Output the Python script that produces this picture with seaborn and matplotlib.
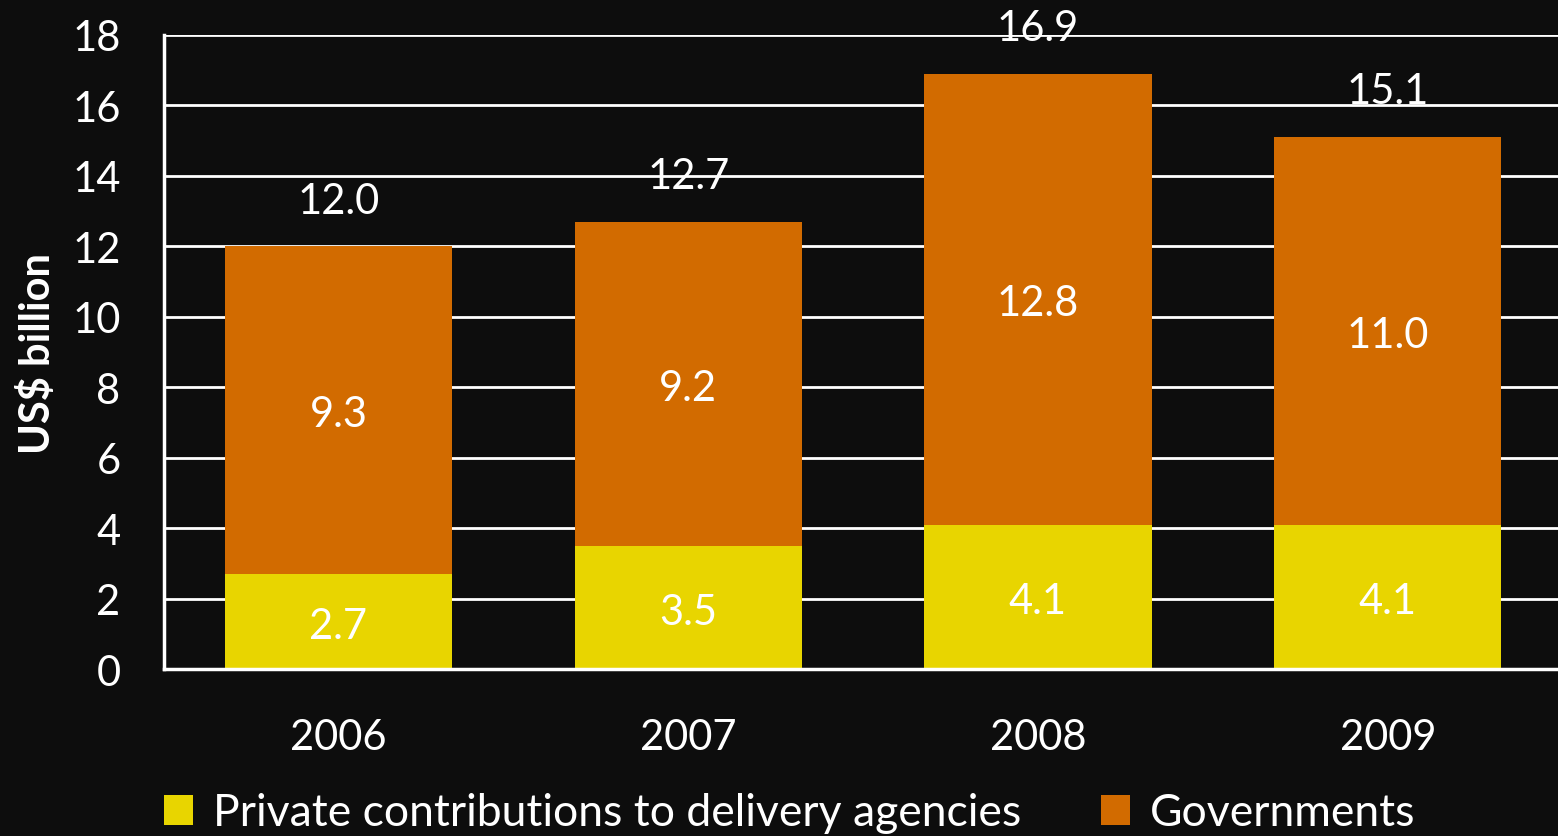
import matplotlib
matplotlib.use("Agg")
import matplotlib.pyplot as plt
import seaborn as sns
import pandas as pd
from matplotlib.patches import Patch

years = ["2006", "2007", "2008", "2009"]
private = [2.7, 3.5, 4.1, 4.1]
governments = [9.3, 9.2, 12.8, 11.0]
totals = [12.0, 12.7, 16.9, 15.1]
yticks = [0, 2, 4, 6, 8, 10, 12, 14, 16, 18]

BG = "#0d0d0d"
ORANGE = "#d26b00"
YELLOW = "#e8d500"

sns.set_theme(style="white")
plt.rcParams["font.family"] = ["Lato", "DejaVu Sans"]

fig = plt.figure(figsize=(15.58, 8.37), dpi=100, facecolor=BG)
ax = fig.add_axes([0.105, 0.1995, 0.898, 0.7575], facecolor=BG)

df = pd.DataFrame({"year": years, "private": private, "gov": governments, "total": totals})

sns.barplot(data=df, x="year", y="total", color=ORANGE, width=0.65, ax=ax,
            saturation=1, edgecolor="none", linewidth=0, zorder=3)
sns.barplot(data=df, x="year", y="private", color=YELLOW, width=0.65, ax=ax,
            saturation=1, edgecolor="none", linewidth=0, zorder=4)

ax.set_ylim(0, 18)
ax.set_xlim(-0.5, 3.5)
ax.set_yticks(yticks)
ax.yaxis.grid(True, color="white", linewidth=2, zorder=0)
ax.set_axisbelow(True)
for s in ["top", "right"]:
    ax.spines[s].set_visible(False)
for s in ["left", "bottom"]:
    ax.spines[s].set_color("white")
    ax.spines[s].set_linewidth(2.5)
    ax.spines[s].set_zorder(5)

ax.tick_params(axis="both", colors="white", labelsize=30, length=0)
ax.tick_params(axis="y", pad=31)
ax.tick_params(axis="x", pad=35)
ax.set_xlabel("")
ax.set_ylabel("US$ billion", color="white", fontsize=30, fontweight="bold")
ax.yaxis.set_label_coords(-0.0765, 0.5)

for i in range(len(years)):
    ax.text(i, private[i] / 2 - 0.13, f"{private[i]:.1f}", ha="center", va="center",
            color="white", fontsize=30, zorder=6)
    ax.text(i, private[i] + governments[i] / 2 - 0.12, f"{governments[i]:.1f}", ha="center",
            va="center", color="white", fontsize=30, zorder=6)
    ax.text(i, totals[i] + 1.3, f"{totals[i]:.1f}", ha="center", va="center",
            color="white", fontsize=30, zorder=6)

handles = [Patch(facecolor=YELLOW, edgecolor="none"), Patch(facecolor=ORANGE, edgecolor="none")]
labels = ["Private contributions to delivery agencies", "Governments"]
fig.legend(handles, labels, loc="lower left", bbox_to_anchor=(164 / 1558, 0.003), ncol=2,
           frameon=False, fontsize=32, labelcolor="white", handlelength=0.65,
           handleheight=0.65, handletextpad=0.45, columnspacing=1.8,
           borderpad=0, borderaxespad=0)

fig.savefig("out.png", dpi=100, facecolor=BG)
